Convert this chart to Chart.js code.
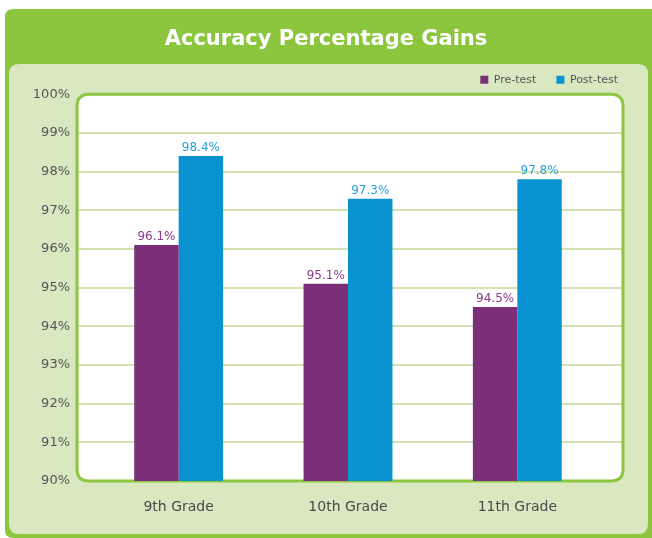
<!DOCTYPE html>
<html>
<head>
<meta charset="utf-8">
<title>Accuracy Percentage Gains</title>
<script src="https://cdn.jsdelivr.net/npm/chart.js@4"></script>
<style>
  html, body { margin: 0; padding: 0; background: #ffffff; }
  #chart { display: block; }
</style>
</head>
<body>
<canvas id="chart" width="652" height="538"></canvas>
<script>
const grades = ['9th Grade', '10th Grade', '11th Grade'];
const preTest = [96.1, 95.1, 94.5];
const postTest = [98.4, 97.3, 97.8];
const yTicks = [90, 91, 92, 93, 94, 95, 96, 97, 98, 99, 100];

const GREEN = '#8cc63f';
const PANEL = '#d9e8c1';
const PURPLE = '#7a2f78';
const BLUE = '#0a93d1';

function roundRect(ctx, x, y, w, h, r) {
  ctx.beginPath();
  ctx.moveTo(x + r, y);
  ctx.lineTo(x + w - r, y);
  ctx.quadraticCurveTo(x + w, y, x + w, y + r);
  ctx.lineTo(x + w, y + h - r);
  ctx.quadraticCurveTo(x + w, y + h, x + w - r, y + h);
  ctx.lineTo(x + r, y + h);
  ctx.quadraticCurveTo(x, y + h, x, y + h - r);
  ctx.lineTo(x, y + r);
  ctx.quadraticCurveTo(x, y, x + r, y);
  ctx.closePath();
}

// green frame, light panel, white plot box and grid lines
const backdrop = {
  id: 'backdrop',
  beforeDraw(chart) {
    const ctx = chart.ctx;
    const area = chart.chartArea;
    const y = chart.scales.y;
    ctx.save();
    roundRect(ctx, 5, 9, 660, 529, 8);
    ctx.fillStyle = GREEN;
    ctx.fill();
    roundRect(ctx, 9, 64, 639, 470, 10);
    ctx.fillStyle = PANEL;
    ctx.fill();

    const left = area.left - 17;
    const right = area.right + 21;
    roundRect(ctx, left, area.top, right - left, area.bottom - area.top, 12);
    ctx.fillStyle = '#ffffff';
    ctx.fill();

    ctx.strokeStyle = '#d3e3b0';
    ctx.lineWidth = 2;
    yTicks.slice(1, -1).forEach(v => {
      const py = Math.round(y.getPixelForValue(v));
      ctx.beginPath();
      ctx.moveTo(left, py);
      ctx.lineTo(right, py);
      ctx.stroke();
    });

    roundRect(ctx, left, area.top, right - left, area.bottom - area.top, 12);
    ctx.strokeStyle = GREEN;
    ctx.lineWidth = 3;
    ctx.stroke();
    ctx.restore();
  }
};

// move the legend into the same spot as the original
const legendNudge = {
  id: 'legendNudge',
  afterLayout(chart) {
    const lg = chart.legend;
    if (lg) {
      lg.left -= 14;
      lg.right -= 14;
      lg.top += 1;
      lg.bottom += 1;
    }
  }
};

// value labels above the bars
const valueLabels = {
  id: 'valueLabels',
  afterDatasetsDraw(chart) {
    const ctx = chart.ctx;
    const colors = ['#8a3c89', '#2a9fd8'];
    ctx.save();
    ctx.font = '12px "DejaVu Sans"';
    ctx.textAlign = 'center';
    ctx.textBaseline = 'bottom';
    chart.data.datasets.forEach((ds, i) => {
      const meta = chart.getDatasetMeta(i);
      ctx.fillStyle = colors[i];
      meta.data.forEach((bar, j) => {
        ctx.fillText(ds.data[j].toFixed(1) + '%', bar.x, bar.y - 2);
      });
    });
    ctx.restore();
  }
};

new Chart(document.getElementById('chart'), {
  type: 'bar',
  data: {
    labels: grades,
    datasets: [
      { label: 'Pre-test', data: preTest, backgroundColor: PURPLE },
      { label: 'Post-test', data: postTest, backgroundColor: BLUE }
    ]
  },
  options: {
    responsive: false,
    animation: false,
    layout: { padding: { top: 27, left: 0, right: 0, bottom: 12 } },
    datasets: {
      bar: { categoryPercentage: 0.525, barPercentage: 1.0 }
    },
    plugins: {
      title: {
        display: true,
        text: 'Accuracy Percentage Gains',
        color: '#ffffff',
        font: { family: 'DejaVu Sans', size: 21, weight: 'bold' },
        padding: { top: 0, bottom: 1 }
      },
      legend: {
        position: 'top',
        align: 'end',
        labels: {
          color: '#555555',
          font: { family: 'DejaVu Sans', size: 11 },
          boxWidth: 8,
          boxHeight: 8,
          padding: 20
        }
      },
      tooltip: { enabled: false }
    },
    scales: {
      x: {
        afterFit(scale) { scale.height = 45; },
        grid: { display: false, drawTicks: false },
        border: { display: false },
        ticks: {
          color: '#4a4a4a',
          font: { family: 'DejaVu Sans', size: 14 },
          padding: 18
        }
      },
      y: {
        min: 90,
        max: 100,
        afterFit(scale) { scale.width = 94; },
        afterBuildTicks(scale) { scale.ticks = yTicks.map(v => ({ value: v })); },
        grid: { display: false, drawTicks: false },
        border: { display: false },
        ticks: {
          color: '#555555',
          font: { family: 'DejaVu Sans', size: 13 },
          padding: 24,
          callback: v => v + '%'
        }
      },
      // empty right-hand margin so the title centres on the whole card
      spacer: {
        type: 'linear',
        position: 'right',
        afterFit(scale) { scale.width = 50; },
        grid: { display: false, drawTicks: false },
        border: { display: false },
        ticks: { display: false }
      }
    }
  },
  plugins: [backdrop, legendNudge, valueLabels]
});
</script>
</body>
</html>
